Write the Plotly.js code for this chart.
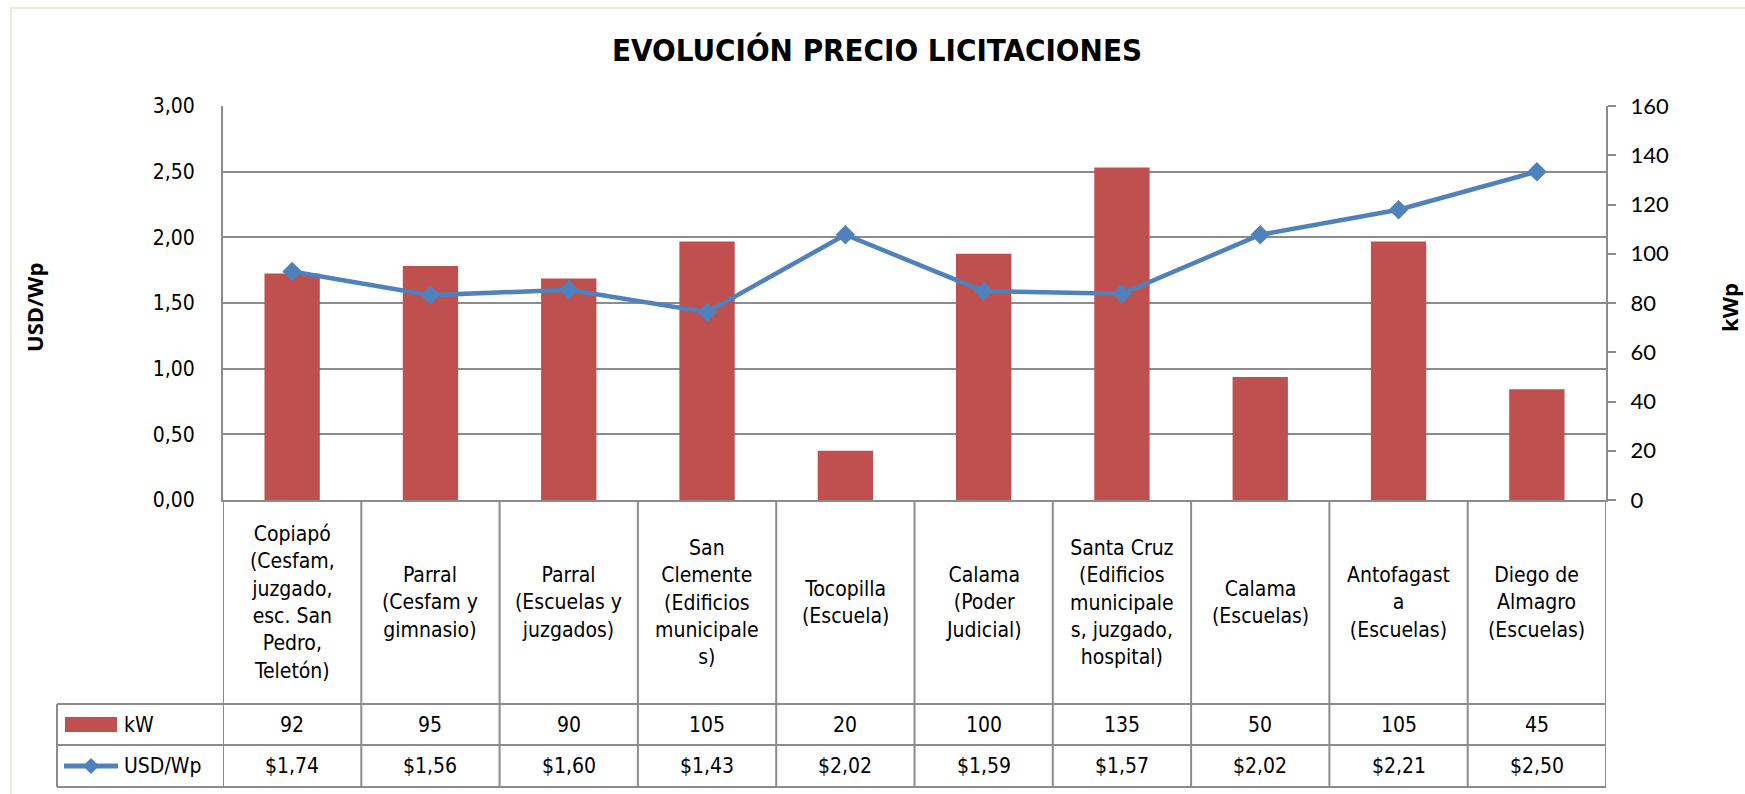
<!DOCTYPE html>
<html><head><meta charset="utf-8">
<script src="https://cdn.plot.ly/plotly-3.0.1.min.js"></script>
<style>html,body{margin:0;padding:0;background:#fff}#chart{width:1745px;height:794px}</style>
</head><body><div id="chart"></div>
<script>
// ---- data ----
const categoryLabels = [
  'Copiapó<br>(Cesfam,<br>juzgado,<br>esc. San<br>Pedro,<br>Teletón)',
  'Parral<br>(Cesfam y<br>gimnasio)',
  'Parral<br>(Escuelas y<br>juzgados)',
  'San<br>Clemente<br>(Edificios<br>municipale<br>s)',
  'Tocopilla<br>(Escuela)',
  'Calama<br>(Poder<br>Judicial)',
  'Santa Cruz<br>(Edificios<br>municipale<br>s, juzgado,<br>hospital)',
  'Calama<br>(Escuelas)',
  'Antofagast<br>a<br>(Escuelas)',
  'Diego de<br>Almagro<br>(Escuelas)'
];
const kwValues = [92, 95, 90, 105, 20, 100, 135, 50, 105, 45];
const usdValues = [1.74, 1.56, 1.60, 1.43, 2.02, 1.59, 1.57, 2.02, 2.21, 2.50];
const seriesNames = ['kW', 'USD/Wp'];
const chartTitle = 'EVOLUCIÓN PRECIO LICITACIONES';
const leftAxisTitle = 'USD/Wp';
const rightAxisTitle = 'kWp';

// ---- geometry ----
const W = 1745, H = 794;
const L = 223, R = 1606, T = 106, B = 500;
const pw = R - L, ph = B - T;
const px = x => (x - L) / pw;
const py = y => (B - y) / ph;

const NARROW = '"Liberation Sans Narrow", "Arial Narrow", "DejaVu Sans Condensed", sans-serif';
const CAL = 'Lato, "Open Sans", sans-serif';
const RED = '#C0504D', BLUE = '#4F81BD', GRID = '#8C8C8C', TXT = '#000000';

const idx = categoryLabels.map((_, i) => i);

const traces = [
  {
    type: 'bar', x: idx, y: kwValues, name: seriesNames[0], yaxis: 'y',
    marker: {color: RED}, width: 0.4, hoverinfo: 'y'
  },
  {
    type: 'scatter', mode: 'lines+markers', x: idx, y: usdValues, name: seriesNames[1], yaxis: 'y2',
    line: {color: BLUE, width: 4.5}, marker: {symbol: 'diamond', size: 15, color: BLUE}
  }
];

// table
const rowCatBottom = 704, rowKwBottom = 745, rowUsdBottom = 787, tableLeft = 57;
const shapes = [];
const lineStyle = {color: GRID, width: 2};
// outer frame (only top and left edges visible)
shapes.push({type: 'rect', xref: 'paper', yref: 'paper', x0: px(11), x1: px(1760), y0: py(8), y1: py(810),
  line: {color: '#ECE9DD', width: 2}, layer: 'below'});
// horizontal lines
[rowCatBottom, rowKwBottom, rowUsdBottom].forEach(yy => shapes.push({
  type: 'line', xref: 'paper', yref: 'paper', x0: px(tableLeft), x1: 1, y0: py(yy), y1: py(yy), line: lineStyle}));
// vertical lines
shapes.push({type: 'line', xref: 'paper', yref: 'paper', x0: px(tableLeft), x1: px(tableLeft),
  y0: py(rowCatBottom), y1: py(rowUsdBottom), line: lineStyle});
for (let k = 0; k <= categoryLabels.length; k++) {
  shapes.push({type: 'line', xref: 'x', yref: 'paper', x0: k - 0.5, x1: k - 0.5,
    y0: 0, y1: py(rowUsdBottom), line: lineStyle});
}
// legend keys
shapes.push({type: 'rect', xref: 'paper', yref: 'paper', x0: px(65), x1: px(117), y0: py(717), y1: py(732),
  fillcolor: RED, line: {width: 0}});
shapes.push({type: 'line', xref: 'paper', yref: 'paper', x0: px(64), x1: px(118), y0: py(766), y1: py(766),
  line: {color: BLUE, width: 5}});
const cx = 91, cy = 766, d = 8;
shapes.push({type: 'path', xref: 'paper', yref: 'paper',
  path: `M ${px(cx)} ${py(cy - d)} L ${px(cx + d)} ${py(cy)} L ${px(cx)} ${py(cy + d)} L ${px(cx - d)} ${py(cy)} Z`,
  fillcolor: BLUE, line: {width: 0}});

const annotations = [];
const cellFont = {family: NARROW, size: 21, color: TXT};
categoryLabels.forEach((lab, i) => {
  annotations.push({xref: 'x', yref: 'paper', x: i, y: py((B + rowCatBottom) / 2), text: lab,
    showarrow: false, xanchor: 'center', yanchor: 'middle', align: 'center', font: cellFont});
  annotations.push({xref: 'x', yref: 'paper', x: i, y: py((rowCatBottom + rowKwBottom) / 2), text: String(kwValues[i]),
    showarrow: false, xanchor: 'center', yanchor: 'middle', font: cellFont});
  annotations.push({xref: 'x', yref: 'paper', x: i, y: py((rowKwBottom + rowUsdBottom) / 2),
    text: '$' + usdValues[i].toFixed(2).replace('.', ','),
    showarrow: false, xanchor: 'center', yanchor: 'middle', font: cellFont});
});
annotations.push({xref: 'paper', yref: 'paper', x: px(122), y: py((rowCatBottom + rowKwBottom) / 2), text: seriesNames[0],
  showarrow: false, xanchor: 'left', yanchor: 'middle', font: cellFont});
annotations.push({xref: 'paper', yref: 'paper', x: px(122), y: py((rowKwBottom + rowUsdBottom) / 2), text: seriesNames[1],
  showarrow: false, xanchor: 'left', yanchor: 'middle', font: cellFont});
// axis titles
annotations.push({xref: 'paper', yref: 'paper', x: px(34), y: py(308), text: '<b>' + leftAxisTitle + '</b>',
  textangle: -90, showarrow: false, xanchor: 'center', yanchor: 'middle', font: {family: '"Open Sans", sans-serif', size: 22, color: TXT}});
annotations.push({xref: 'paper', yref: 'paper', x: px(1729), y: py(308), text: '<b>' + rightAxisTitle + '</b>',
  textangle: -90, showarrow: false, xanchor: 'center', yanchor: 'middle', font: {family: '"Open Sans", sans-serif', size: 22, color: TXT}});

const layout = {
  width: W, height: H,
  margin: {l: L, r: W - R, t: T, b: H - B, pad: 0},
  paper_bgcolor: '#ffffff', plot_bgcolor: '#ffffff',
  showlegend: false,
  separators: ',.',
  title: {text: '<b>' + chartTitle + '</b>', xref: 'container', x: 877 / W, xanchor: 'center',
    yref: 'container', y: 1 - 50 / H, yanchor: 'middle',
    font: {family: NARROW, size: 31, color: TXT}},
  xaxis: {range: [-0.5, categoryLabels.length - 0.5], showticklabels: false, showgrid: false, zeroline: false,
    showline: true, linecolor: GRID, linewidth: 2, ticks: '', fixedrange: true},
  yaxis: {range: [0, 160], dtick: 20, tick0: 0, side: 'right', showgrid: false, zeroline: false,
    showline: true, linecolor: GRID, linewidth: 2, ticks: 'outside', ticklen: 8, tickwidth: 2, tickcolor: GRID,
    ticklabelstandoff: 10, tickfont: {family: CAL, size: 22, color: TXT}},
  yaxis2: {range: [0, 3], dtick: 0.5, tick0: 0, tickformat: '.2f', overlaying: 'y', side: 'left',
    showgrid: true, gridcolor: GRID, gridwidth: 2,
    zeroline: false, showline: true, linecolor: GRID, linewidth: 2, ticks: '', ticklabelstandoff: 22,
    tickfont: {family: NARROW, size: 21, color: TXT}},
  shapes: shapes,
  annotations: annotations
};

Plotly.newPlot('chart', traces, layout, {displayModeBar: false, staticPlot: true});
</script>
</body></html>
